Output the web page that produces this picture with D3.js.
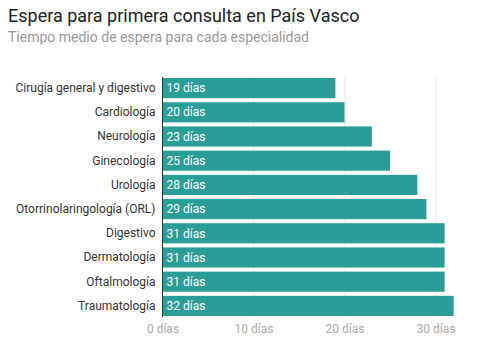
<!DOCTYPE html>
<html>
<head>
<meta charset="utf-8">
<script src="https://cdn.jsdelivr.net/npm/d3@7"></script>
<style>
  body { margin: 0; background: white; font-family: Roboto, sans-serif; }
  .title { font-size: 18px; fill: #222; }
  .subtitle { font-size: 14px; fill: #999; }
</style>
</head>
<body>
<div id="chart"></div>
<script>
var especialidades = ["Cirugía general y digestivo", "Cardiología", "Neurología", "Ginecología",
  "Urología", "Otorrinolaringología (ORL)", "Digestivo", "Dermatología", "Oftalmología", "Traumatología"];
var dias = [19, 20, 23, 25, 28, 29, 31, 31, 31, 32];
var ticks = [0, 10, 20, 30];

var width = 479, height = 354;
var margin = {top: 77, left: 162.5, right: 479 - 162.5 - 327.6, bottom: 354 - 317};

var svg = d3.select("#chart")
  .append("svg")
  .attr("width", width)
  .attr("height", height)
  .style("background", "white");

svg.append("text")
  .attr("class", "title")
  .attr("x", 8)
  .attr("y", 22)
  .text("Espera para primera consulta en País Vasco");

svg.append("text")
  .attr("class", "subtitle")
  .attr("x", 8)
  .attr("y", 42)
  .text("Tiempo medio de espera para cada especialidad");

var g = svg.append("g")
  .attr("transform", "translate(" + margin.left + "," + margin.top + ")");

var w = width - margin.left - margin.right;
var h = height - margin.top - margin.bottom;

var xscale = d3.scaleLinear()
  .domain([0, 36])
  .range([0, w]);

var yscale = d3.scaleBand()
  .domain(especialidades)
  .range([0, h])
  .paddingInner(4 / 24)
  .paddingOuter(1 / 24);

// gridlines
g.append("g")
  .selectAll("line")
  .data(ticks.filter(d => d > 0))
  .enter().append("line")
  .attr("x1", d => Math.round(xscale(d)) + 0.5)
  .attr("x2", d => Math.round(xscale(d)) + 0.5)
  .attr("y1", 0)
  .attr("y2", h)
  .attr("stroke", "#e4e4e4");

g.selectAll("rect")
  .data(dias)
  .enter()
  .append("rect")
  .attr("x", 0)
  .attr("y", (d, i) => yscale(especialidades[i]))
  .attr("width", d => xscale(d))
  .attr("height", yscale.bandwidth())
  .attr("fill", "#2a9d98");

// base line
g.append("line")
  .attr("x1", 0).attr("x2", 0)
  .attr("y1", 0).attr("y2", h)
  .attr("stroke", "#333")
  .attr("stroke-width", 1);

// value labels
g.selectAll(".val")
  .data(dias)
  .enter()
  .append("text")
  .attr("class", "val")
  .attr("x", 4)
  .attr("y", (d, i) => yscale(especialidades[i]) + yscale.bandwidth() / 2)
  .attr("dy", "0.35em")
  .attr("fill", "white")
  .style("font-size", "12px")
  .text(d => d + " días");

// category axis
var yAxis = g.append("g")
  .call(d3.axisLeft(yscale).tickSize(0).tickPadding(7));
yAxis.select(".domain").remove();
yAxis.selectAll("text")
  .style("font-family", "Roboto, sans-serif")
  .style("font-size", "12px")
  .attr("fill", "#333");

// x axis
var xAxis = g.append("g")
  .attr("transform", "translate(0," + h + ")")
  .call(d3.axisBottom(xscale).tickValues(ticks).tickSize(0).tickPadding(7)
    .tickFormat(d => d + " días"));
xAxis.select(".domain").remove();
xAxis.selectAll("text")
  .style("font-family", "Roboto, sans-serif")
  .style("font-size", "12px")
  .attr("fill", "#aaa");
</script>
</body>
</html>
